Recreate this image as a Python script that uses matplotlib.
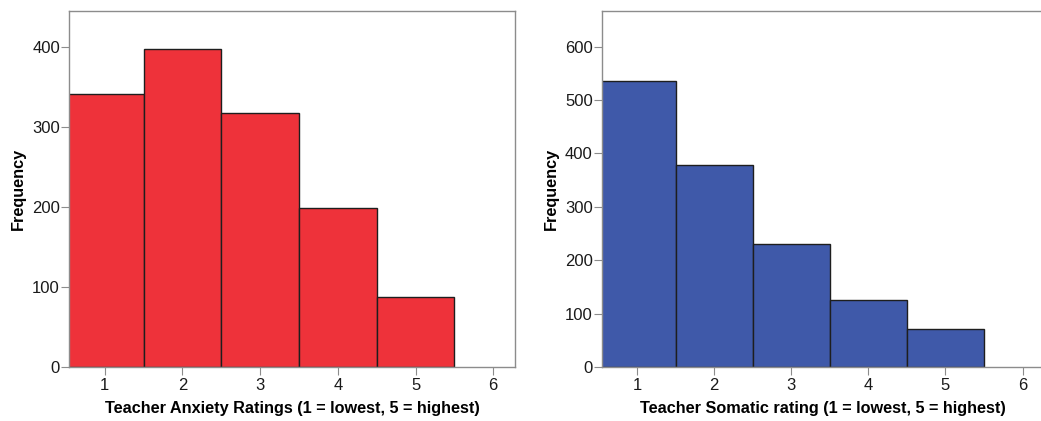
import matplotlib

matplotlib.use("Agg")
import matplotlib.pyplot as plt

ratings = [1, 2, 3, 4, 5]
anxiety_counts = [341, 397, 318, 199, 88]
somatic_counts = [535, 379, 231, 125, 72]
x_ticks = [1, 2, 3, 4, 5, 6]

plt.rcParams["font.family"] = ["Liberation Sans", "DejaVu Sans"]

fig = plt.figure(figsize=(10.41, 4.21), dpi=100)
ax1 = fig.add_axes([0.0663, 0.1283, 0.4284, 0.8456])
ax2 = fig.add_axes([0.578, 0.1283, 0.425, 0.8456])


def draw(ax, counts, color, ylim, yticks, xlabel):
    ax.bar(ratings, counts, width=1.0, color=color, edgecolor="#1e1e1e", linewidth=1.0)
    ax.set_xlim(0.54, 6.28)
    ax.set_ylim(*ylim)
    ax.set_xticks(x_ticks)
    ax.set_yticks(yticks)
    for side in ["top", "right", "left", "bottom"]:
        ax.spines[side].set_color("#8c8c8c")
        ax.spines[side].set_linewidth(1.0)
    ax.tick_params(direction="out", length=6, color="#8c8c8c", labelsize=12, labelcolor="#1a1a1a")
    ax.tick_params(axis="y", pad=0.5)
    ax.tick_params(axis="x", pad=2)
    ax.set_xlabel(xlabel, fontsize=11.7, fontweight="bold", labelpad=6)
    ax.set_ylabel("Frequency", fontsize=11.7, fontweight="bold", labelpad=4.5)


draw(ax1, anxiety_counts, "#ee323a", (0, 445), [0, 100, 200, 300, 400],
     "Teacher Anxiety Ratings (1 = lowest, 5 = highest)")
draw(ax2, somatic_counts, "#3f59a9", (0, 667), [0, 100, 200, 300, 400, 500, 600],
     "Teacher Somatic rating (1 = lowest, 5 = highest)")

fig.savefig("out.png", dpi=100)
